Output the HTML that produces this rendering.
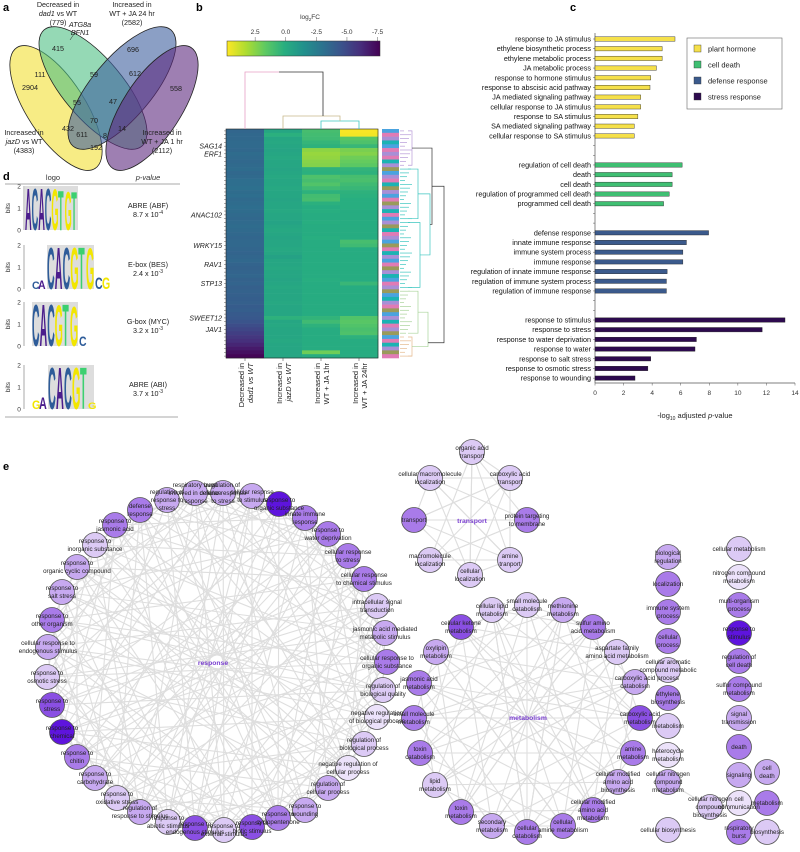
<!DOCTYPE html>
<html><head><meta charset="utf-8">
<style>
html,body{margin:0;padding:0;background:#fff;}
svg{display:block;font-family:"Liberation Sans",sans-serif;}
</style></head>
<body>
<svg id="fig" width="800" height="852" viewBox="0 0 800 852" xmlns="http://www.w3.org/2000/svg">
<g font-weight="bold" font-size="11" fill="#000">
<text x="3" y="11">a</text><text x="196" y="11">b</text><text x="570" y="11">c</text><text x="3" y="180">d</text><text x="3" y="470">e</text>
</g>
<!-- Venn -->
<g id="venn">
<ellipse cx="56" cy="108" rx="29" ry="72" transform="rotate(-33 56 108)" fill="#f4e55c" fill-opacity="0.75" stroke="#222" stroke-width="0.8"/>
<ellipse cx="93" cy="88" rx="30" ry="76" transform="rotate(-40 93 88)" fill="#4fbf83" fill-opacity="0.6" stroke="#222" stroke-width="0.8"/>
<ellipse cx="122" cy="88" rx="30" ry="76" transform="rotate(40 122 88)" fill="#3d5f9e" fill-opacity="0.6" stroke="#222" stroke-width="0.8"/>
<ellipse cx="152" cy="108" rx="29" ry="72" transform="rotate(33 152 108)" fill="#5e2a7e" fill-opacity="0.6" stroke="#222" stroke-width="0.8"/>
<g font-size="7.2" text-anchor="middle" fill="#222">
<text x="58" y="51">415</text><text x="40" y="77">111</text><text x="30" y="90">2904</text><text x="94" y="77">59</text>
<text x="133" y="52">696</text><text x="135" y="76">612</text><text x="176" y="91">558</text><text x="77" y="105">55</text>
<text x="113" y="104">47</text><text x="94" y="123">70</text><text x="68" y="131">432</text><text x="82" y="137">611</text>
<text x="105" y="138">8</text><text x="122" y="131">14</text><text x="96" y="150">192</text>
<text x="58" y="7">Decreased in</text><text x="58" y="16"><tspan font-style="italic">dad1</tspan> vs WT</text><text x="58" y="25">(779)</text>
<text x="80" y="27" font-style="italic">ATG8a</text><text x="80" y="35" font-style="italic">BFN1</text>
<text x="132" y="7">Increased in</text><text x="132" y="16">WT + JA 24 hr</text><text x="132" y="25">(2582)</text>
<text x="24" y="135">Increased in</text><text x="24" y="144"><tspan font-style="italic">jazD</tspan> vs WT</text><text x="24" y="153">(4383)</text>
<text x="162" y="135">Increased in</text><text x="162" y="144">WT + JA 1 hr</text><text x="162" y="153">(2112)</text>
</g>
<line x1="70" y1="40" x2="76" y2="31" stroke="#222" stroke-width="0.5"/>
</g>
<!-- Heatmap -->
<g id="heat"></g>
<!-- Bars -->
<g id="bars"></g>
<!-- Logos -->
<g id="logos"></g>
<!-- Network -->
<g id="net"></g>
</svg>
<script>
const NS="http://www.w3.org/2000/svg";
function mk(parent,tag,attrs,txt){const e=document.createElementNS(NS,tag);for(const k in attrs)e.setAttribute(k,attrs[k]);if(txt!==undefined)e.textContent=txt;parent.appendChild(e);return e;}

/* ---------- Panel c: bar chart ---------- */
const barCategories=["response to JA stimulus","ethylene biosynthetic process","ethylene metabolic process","JA metabolic process","response to hormone stimulus","response to abscisic acid pathway","JA mediated signaling pathway","cellular response to JA stimulus","response to SA stimulus","SA mediated signaling pathway","cellular response to SA stimulus",
"regulation of cell death","death","cell death","regulation of programmed cell death","programmed cell death",
"defense response","innate immune response","immune system process","immune response","regulation of innate immune response","regulation of immune system process","regulation of immune response",
"response to stimulus","response to stress","response to water deprivation","response to water","response to salt stress","response to osmotic stress","response to wounding"];
const barValues=[5.6,4.7,4.7,4.3,3.9,3.85,3.2,3.2,3.0,2.75,2.75, 6.1,5.4,5.4,5.2,4.8, 7.95,6.4,6.15,6.15,5.05,5.0,5.0, 13.3,11.7,7.1,7.0,3.9,3.7,2.8];
const barGroups=[0,0,0,0,0,0,0,0,0,0,0, 1,1,1,1,1, 2,2,2,2,2,2,2, 3,3,3,3,3,3,3];
const groupNames=["plant hormone","cell death","defense response","stress response"];
const xTicks=[0,2,4,6,8,10,12,14];
const groupColors=["#f5e04a","#3fbf72","#3b5a8c","#2d0a4e"];
(function(){
 const g=document.getElementById('bars');
 const x0=595,x1=795,xmax=14,y0=39,pitch=9.69;
 const xs=v=>x0+(v/xmax)*(x1-x0);
 let slot=0,prev=-1;const slots=[];
 barGroups.forEach((gr,i)=>{if(prev!==-1&&gr!==prev)slot+=2;slots.push(slot);slot++;prev=gr;});
 const yAxisBottom=383;
 mk(g,'line',{x1:x0,y1:33,x2:x0,y2:yAxisBottom,stroke:'#555','stroke-width':0.7});
 mk(g,'line',{x1:x0,y1:yAxisBottom,x2:x1,y2:yAxisBottom,stroke:'#555','stroke-width':0.7});
 for(let s=0;s<=slot-1;s++){mk(g,'line',{x1:x0-2,y1:y0+s*pitch,x2:x0,y2:y0+s*pitch,stroke:'#555','stroke-width':0.5});}
 barValues.forEach((v,i)=>{
  const y=y0+slots[i]*pitch;
  const r=mk(g,'rect',{x:x0,y:y-2.2,width:xs(v)-x0,height:4.4,fill:groupColors[barGroups[i]],stroke:'#222','stroke-width':0.4});
  
  
  const t=mk(g,'text',{x:x0-4,y:y+2.5,'font-size':7.2,'text-anchor':'end',fill:'#111'},barCategories[i]);
  
  
 });
 xTicks.forEach(v=>{
  mk(g,'line',{x1:xs(v),y1:yAxisBottom,x2:xs(v),y2:yAxisBottom+2.5,stroke:'#555','stroke-width':0.5});
  const t=mk(g,'text',{x:xs(v),y:yAxisBottom+12,'font-size':6.5,'text-anchor':'middle',fill:'#333'},String(v));
  
  
 });
 const at=mk(g,'text',{x:695,y:418,'font-size':7.5,'text-anchor':'middle',fill:'#222'});
 
 
 at.innerHTML='-log<tspan font-size="5" dy="2">10</tspan><tspan dy="-2"> adjusted </tspan><tspan font-style="italic">p</tspan>-value';
 const lg=mk(g,'g',{});
 
 
 mk(lg,'rect',{x:687,y:38,width:95,height:71,fill:'#fff',stroke:'#666','stroke-width':0.6});
 groupNames.forEach((n,i)=>{
  const yy=49+i*16;
  mk(lg,'rect',{x:694,y:yy-4,width:7,height:7,fill:groupColors[i],stroke:'#333','stroke-width':0.4});
  const t=mk(lg,'text',{x:708,y:yy+2.5,'font-size':7.5,fill:'#222'},n);
  
  
 });
})();

/* ---------- Panel b: heatmap ---------- */
const heatColumns=["Decreased in dad1 vs WT","Increased in jazD vs WT","Increased in WT + JA 1hr","Increased in WT + JA 24hr"];
const heatDad1=[-3.6,-3.5,-3.5,-3.4,-3.4,-3.5,-3.3,-3.4,-3.5,-3.4,-3.3,-3.5,-3.4,-3.2,-3.2,-3.1,-3.3,-3.2,-3.4,-3.3,-3.2,-3.3,-3.4,-3.5,-3.4,-3.3,-3.4,-3.5,-3.6,-3.5,-3.5,-3.6,-3.7,-3.6,-3.5,-3.7,-3.8,-3.7,-3.6,-3.8,-3.7,-3.9,-3.8,-3.9,-4.0,-3.9,-4.1,-4.0,-4.2,-4.3,-4.5,-4.8,-5.1,-5.4,-5.7,-6.0,-6.4,-6.8,-7.2,-7.6];
const heatJazD=[-0.3,0.2,-0.3,-0.2,-0.3,-0.4,-0.3,-0.2,-0.3,-0.3,-0.4,-0.3,-0.2,-0.3,-0.3,-0.2,-0.3,-0.3,-0.4,-0.3,-0.3,-0.2,-0.3,-0.3,-0.5,-0.3,-0.2,-0.3,-0.4,-0.3,-0.3,-0.2,-0.3,-0.6,-0.3,-0.3,-0.2,-0.3,-0.3,-0.4,-0.3,-0.2,-0.3,-0.3,-0.3,-0.2,-0.3,-0.3,-0.3,0.3,-0.3,-0.2,-0.3,-0.3,-0.3,-0.2,-0.3,-0.3,-0.3,-0.3];
const heatJA1=[1.0,0.9,0.8,0.5,0.3,2.6,2.8,2.7,2.5,2.4,0.3,0.2,1.2,1.0,1.3,0.8,0.3,0.9,1.0,0.2,0.0,0.1,0.0,0.0,0.1,0.0,0.0,0.0,0.1,0.0,0.0,0.0,0.0,0.0,0.0,0.0,0.0,0.0,0.0,0.1,0.0,0.0,0.0,0.0,0.0,0.0,0.0,0.0,0.0,0.4,0.8,0.3,0.0,0.0,0.0,0.0,0.0,0.0,2.0,0.0];
const heatJA24=[4.7,4.6,1.5,1.2,0.6,2.2,2.4,2.0,1.8,1.6,0.4,0.3,1.0,1.1,0.8,0.6,0.3,0.2,0.1,0.1,0.1,0.0,0.0,0.0,0.0,0.0,0.0,0.0,0.0,1.0,0.8,0.0,0.0,0.0,0.0,0.0,0.0,0.0,0.0,0.0,0.6,0.0,0.0,0.0,0.0,0.0,0.0,0.0,0.0,1.3,1.5,1.3,1.1,1.2,0.3,0.0,0.0,0.0,0.0,0.0];
const heatGenes=["SAG14","ERF1","ANAC102","WRKY15","RAV1","STP13","SWEET12","JAV1"];
const heatGeneRows=[4,6,22,30,35,40,49,52];
const cbTicks=[2.5,0,-2.5,-5,-7.5];
const rowStrip=[0,1,2,3,0,1,2,1,3,2,4,0,2,1,3,4,2,0,1,4,2,3,1,0,2,4,3,1,2,0,4,1,3,2,0,1,4,2,3,0,1,2,4,0,3,2,1,4,0,2,3,1,2,4,0,1,3,2,4,1];
(function(){
 const g=document.getElementById('heat');
 const vstops=["#fde725","#addc30","#5ec962","#28ae80","#21918c","#2c728e","#3b528b","#472d7b","#440154"];
 const vmax=4.8,vmin=-7.7;
 function hex(h){return [parseInt(h.substr(1,2),16),parseInt(h.substr(3,2),16),parseInt(h.substr(5,2),16)];}
 function col(v){let t=(vmax-v)/(vmax-vmin);t=Math.max(0,Math.min(1,t));const f=t*8,i=Math.min(7,Math.floor(f)),r=f-i;const a=hex(vstops[i]),b=hex(vstops[i+1]);return 'rgb('+a.map((c,k)=>Math.round(c+(b[k]-c)*r)).join(',')+')';}
 const hx0=226,hx1=378,hy0=129,hy1=358;
 const cols=[heatDad1,heatJazD,heatJA1,heatJA24];
 const cw=(hx1-hx0)/cols.length, n=heatDad1.length, rh=(hy1-hy0)/n;
 cols.forEach((arr,c)=>arr.forEach((v,r)=>{
  const e=mk(g,'rect',{x:hx0+c*cw,y:hy0+r*rh,width:cw+0.3,height:rh+0.3,fill:col(v)});
  
  
 }));
 mk(g,'rect',{x:hx0,y:hy0,width:hx1-hx0,height:hy1-hy0,fill:'none',stroke:'#222','stroke-width':0.6});
 for(let r=0;r<n;r++)mk(g,'line',{x1:hx0-2,y1:hy0+(r+0.5)*rh,x2:hx0,y2:hy0+(r+0.5)*rh,stroke:'#333','stroke-width':0.4});
 heatGenes.forEach((gn,i)=>{const t=mk(g,'text',{x:hx0-4,y:hy0+(heatGeneRows[i]+0.5)*rh+2.5,'font-size':7,'font-style':'italic','text-anchor':'end',fill:'#222'},gn);
  
  });
 const cbx0=227,cbx1=380;
 const defs=mk(g,'defs',{});const lgd=mk(defs,'linearGradient',{id:'vir',x1:0,x2:1,y1:0,y2:0});
 vstops.forEach((s,i)=>mk(lgd,'stop',{offset:(i/8),'stop-color':s}));
 const cb=mk(g,'rect',{x:cbx0,y:41,width:cbx1-cbx0,height:15,fill:'url(#vir)',stroke:'#333','stroke-width':0.5});
 
 
 cbTicks.forEach(v=>{const x=cbx0+(vmax-v)/(vmax-vmin)*(cbx1-cbx0);
  mk(g,'line',{x1:x,y1:37,x2:x,y2:41,stroke:'#333','stroke-width':0.4});
  const t=mk(g,'text',{x:x,y:34,'font-size':6.5,'text-anchor':'middle',fill:'#333'},v.toFixed(1));
  
  });
 const tt=mk(g,'text',{x:310,y:19,'font-size':6.5,'text-anchor':'middle',fill:'#333'});tt.innerHTML='log<tspan font-size="4.5" dy="2">2</tspan><tspan dy="-2">FC</tspan>';
 const lab=[["Decreased in","dad1 vs WT"],["Increased in","jazD vs WT"],["Increased in","WT + JA 1hr"],["Increased in","WT + JA 24hr"]];
 lab.forEach((l,c)=>{const cx=hx0+(c+0.5)*cw;
  mk(g,'line',{x1:cx,y1:hy1,x2:cx,y2:hy1+3,stroke:'#333','stroke-width':0.5});
  const t=mk(g,'text',{transform:'translate('+(cx+1)+',363) rotate(-90)','font-size':7.5,'text-anchor':'end',fill:'#222'});
  
  
  t.innerHTML='<tspan x="0" dy="-2">'+l[0]+'</tspan><tspan x="0" dy="9" font-style="'+(c<2?'italic':'normal')+'">'+l[1]+'</tspan>';});
 const c1=hx0+0.5*cw,c2=hx0+1.5*cw,c3=hx0+2.5*cw,c4=hx0+3.5*cw;
 mk(g,'path',{d:'M'+c3+' '+hy0+'V121H'+c4+'V'+hy0,fill:'none',stroke:'#3cc6c0','stroke-width':0.8});
 mk(g,'path',{d:'M'+c2+' '+hy0+'V116H'+(c3+c4)/2+'V121',fill:'none',stroke:'#c8b98a','stroke-width':0.8});
 mk(g,'path',{d:'M'+((c2+c3+c4)/3+2)+' 116V72H279',fill:'none',stroke:'#333','stroke-width':0.8});
 mk(g,'path',{d:'M'+c1+' '+hy0+'V72H279',fill:'none',stroke:'#e7a0c5','stroke-width':0.8});
 const stripCols=["#4aa3df","#e07bb5","#a88fd6","#1bb3b3","#9a9a5a"];
 rowStrip.forEach((k,r)=>{const e=mk(g,'rect',{x:382,y:hy0+r*rh,width:17,height:rh+0.3,fill:stripCols[k]});
  
  });
 const dg=mk(g,'g',{fill:'none','stroke-width':0.7});
 const clusters=[[0,10,'#b79ad8',412],[10,24,'#3cc6c0',418],[24,42,'#3cc6c0',420],[42,54,'#a9d39a',418],[54,60,'#e5b98d',412]];
 clusters.forEach(cl=>{for(let r=cl[0];r<cl[1];r++){const y=hy0+(r+0.5)*rh;mk(dg,'line',{x1:400,y1:y,x2:404+((r*7)%9),y2:y,stroke:cl[2]});}
  mk(dg,'path',{d:'M'+(404+4)+' '+(hy0+(cl[0]+0.5)*rh)+'H'+cl[3]+'V'+(hy0+(cl[1]-0.5)*rh)+'H408',stroke:cl[2]});});
 mk(dg,'path',{d:'M418 '+(hy0+17*rh)+'H430V'+(hy0+33*rh)+'H420',stroke:'#3cc6c0'});
 mk(dg,'path',{d:'M412 '+(hy0+5*rh)+'H432V'+(hy0+25*rh)+'H430',stroke:'#333'});
 mk(dg,'path',{d:'M418 '+(hy0+48*rh)+'H428V'+(hy0+57*rh)+'H412',stroke:'#a9d39a'});
 mk(dg,'path',{d:'M432 '+(hy0+15*rh)+'H444V'+(hy0+56*rh)+'H428',stroke:'#333'});
})();

/* ---------- Panel d: motif logos ---------- */
(function(){
 const g=document.getElementById('logos');
 const LC={A:'#4b1d8c',C:'#2e5c99',G:'#f2e600',T:'#3cd070'};
 mk(g,'text',{x:53,y:180,'font-size':7.5,'text-anchor':'middle',fill:'#333'},'logo');
 mk(g,'text',{x:148,y:180,'font-size':7.5,'text-anchor':'middle','font-style':'italic',fill:'#333'},'p-value');
 mk(g,'line',{x1:5,y1:184,x2:180,y2:184,stroke:'#555','stroke-width':0.6});
 mk(g,'line',{x1:5,y1:417,x2:178,y2:417,stroke:'#555','stroke-width':0.6});
 const logos=[
  {y0:230,bg:[25,78],letters:[['A',25,1.95],['C',31.6,1.95],['A',38.2,1.95],['C',44.8,1.95],['G',51.4,1.9],['T',58,1.85],['G',64.6,1.8],['T',71.2,1.8]],w:6.6,name:'ABRE (ABF)',p:'8.7 x 10',e:'-4'},
  {y0:289,bg:[47,94],letters:[['C',32,0.35],['A',38,0.4],['C',47,1.95],['A',54.8,1.95],['C',62.6,1.95],['G',70.4,1.95],['T',78.2,1.95],['G',86,1.9],['C',95,0.55],['G',102,0.55]],w:7.6,name:'E-box (BES)',p:'2.4 x 10',e:'-3'},
  {y0:346,bg:[32,78],letters:[['C',32,1.95],['A',39.6,1.95],['C',47.2,1.95],['G',54.8,1.9],['T',62.4,1.95],['G',70,1.85],['C',79,0.45]],w:7.5,name:'G-box (MYC)',p:'3.2 x 10',e:'-3'},
  {y0:409,bg:[48,94],letters:[['G',32,0.4],['A',39,0.55],['C',48,1.95],['A',56,1.95],['C',64,1.95],['G',72,1.95],['T',80,1.95],['G',88,0.3]],w:7.8,name:'ABRE (ABI)',p:'3.7 x 10',e:'-3'}
 ];
 logos.forEach((L,i)=>{
  const lg=mk(g,'g',{});
  
  
  mk(lg,'rect',{x:L.bg[0],y:L.y0-44,width:L.bg[1]-L.bg[0],height:44,fill:'#ddd'});
  mk(lg,'line',{x1:24,y1:L.y0-44,x2:24,y2:L.y0,stroke:'#555','stroke-width':0.5});
  [0,1,2].forEach(b=>mk(lg,'text',{x:19,y:L.y0-b*22+2.5,'font-size':6.5,'text-anchor':'middle',fill:'#333'},String(b)));
  mk(lg,'text',{transform:'translate(10,'+(L.y0-22)+') rotate(-90)','font-size':6.5,'text-anchor':'middle',fill:'#333'},'bits');
  L.letters.forEach(l=>{const h=l[2]*22;const w=L.w;
   mk(lg,'text',{transform:'translate('+l[1]+','+L.y0+') scale('+(w/7.2)+','+(h/7.2)+')','font-size':10,'font-weight':'bold',fill:LC[l[0]]},l[0]);});
  mk(lg,'text',{x:148,y:L.y0-22,'font-size':7.2,'text-anchor':'middle',fill:'#222'},L.name);
  const t=mk(lg,'text',{x:148,y:L.y0-13,'font-size':7.2,'text-anchor':'middle',fill:'#222'});
  t.innerHTML=L.p+'<tspan font-size="5" dy="-3">'+L.e+'</tspan>';
 });
})();

/* ---------- Panel e: network ---------- */
(function(){
 const g=document.getElementById('net');
 const shades=['#ece2fa','#dccaf5','#c7a9f0','#a97be9','#8a4fe3','#5e14dd'];
 const eg=mk(g,'g',{stroke:'#dedede','stroke-width':1.1});
 const ng=mk(g,'g',{});
 const response=[[195,493,2,'respiratory burst|involved in defence|response'],[223,493,2,'regulation of|cellular response|to stress'],[252,496,2,'cellular respnse|to stimulus'],[279,504,5,'response to|organic substance'],[305,518,3,'innate immune|response'],[328,534,3,'response to|water deprivation'],[348,556,3,'cellular response|to stress'],[364,579,3,'cellular response|to chemical stimulus'],[377,606,1,'intracellular signal|transduction'],[385,633,2,'jasmonic acid mediated|metabolic stimulus'],[387,662,3,'cellular response to|organic substance'],[383,690,1,'regulation of|biological quality'],[377,717,0,'negative regulation|of biological process'],[364,744,1,'regulation of|biological process'],[348,768,0,'negative regulation of|cellular process'],[328,788,2,'regulation of|cellular process'],[305,810,2,'response to|wounding'],[278,818,3,'response to|cyclopentenone'],[252,827,4,'response to|biotic stimulus'],[224,830,1,'response to|external stimulus'],[195,828,4,'response to|endogenous stimulus'],[168,822,1,'response to|abiotic stimulus'],[140,812,2,'regulation of|response to stimulus'],[117,798,1,'response to|oxidative stress'],[95,778,2,'response to|carbohydrate'],[77,757,3,'response to|chitin'],[62,732,5,'response to|chemical'],[52,705,4,'response to|stress'],[47,677,1,'response to|osmotic stress'],[48,647,2,'cellular response to|endogenous stimulus'],[52,620,3,'response to|other organism'],[62,592,2,'response to|salt stress'],[77,567,2,'response to|organic cyclic compound'],[95,545,1,'response to|inorganic substance'],[115,525,3,'response to|jasmonic acid'],[140,510,3,'defense|response'],[167,500,2,'regulation of|response to|stress']];
 const transport=[[472,452,1,'organic acid|transport'],[510,478,1,'carboxylic acid|transport'],[527,520,3,'protein targeting|to membrane'],[510,560,1,'amine|tranport'],[470,575,1,'cellular|localization'],[430,560,1,'macromolecule|localization'],[414,520,3,'transport'],[430,478,1,'cellular macromolecule|localization']];
 const metab=[[527,605,1,'small molecule|catabolism'],[563,610,2,'methionine|metabolism'],[593,627,3,'sulfur amino|acid metabolism'],[617,652,1,'aspartate family|amino acid metabolism'],[635,682,2,'carboxylic acid|catabolism'],[640,718,4,'carboxylic acid|metabolism'],[633,753,3,'amine|metabolism'],[618,782,2,'cellular modified|amino acid|biosynthesis'],[593,810,3,'cellular modified|amino acid|metabolism'],[563,826,3,'cellular|amine metabolism'],[527,832,3,'cellular|catabolism'],[492,826,2,'secondary|metabolism'],[461,812,3,'toxin|metabolism'],[435,785,1,'lipid|metabolism'],[420,753,3,'toxin|catabolism'],[414,718,3,'small molecule|metabolism'],[419,683,3,'jasmonic acid|metabolism'],[436,652,2,'oxylipin|metabolism'],[461,627,4,'cellular ketone|metabolism'],[492,610,1,'cellular lipid|metabolism']];
 const singles=[[668,557,2,'biological|regulation'],[668,584,3,'localization'],[668,612,3,'immune system|process'],[668,641,3,'cellular|process'],[668,670,1,'cellular aromatic|compound metabolic|process'],[668,698,3,'ethylene|biosynthesis'],[668,726,1,'metabolism'],[668,755,0,'heterocycle|metabolism'],[668,782,2,'cellular nitrogen|compound|metabolism'],[710,807,1,'cellular nitrogen|compound|biosynthesis'],[668,830,1,'cellular biosynthesis'],
  [739,549,1,'cellular metabolism'],[739,577,0,'nitrogen compound|metabolism'],[739,605,3,'multi-organism|process'],[739,633,5,'response to|stimulus'],[739,661,3,'regulation of|cell death'],[739,689,3,'sulfur compound|metabolism'],[739,718,2,'signal|transmission'],[739,747,3,'death'],[739,775,2,'signaling'],[739,803,0,'cell|communication'],[739,832,3,'respiratory|burst'],[767,772,2,'cell|death'],[767,803,3,'metabolism'],[767,832,1,'biosynthesis']];
 function edges(list,steps){const n=list.length;for(let i=0;i<n;i++)steps.forEach(s=>{const j=(i+s+(i%3))%n;mk(eg,'line',{x1:list[i][0],y1:list[i][1],x2:list[j][0],y2:list[j][1]});});}
 edges(response,[2,6,10,14,17]);edges(transport,[1,3,4]);edges(metab,[2,5,8,10]);
 mk(eg,'line',{x1:668,y1:782,x2:710,y2:807});mk(eg,'line',{x1:739,y1:803,x2:710,y2:807});mk(eg,'line',{x1:739,y1:803,x2:767,y2:803});
 function nodes(list){list.forEach(nd=>{
  const c=mk(ng,'circle',{cx:nd[0],cy:nd[1],r:12.5,fill:shades[nd[2]],stroke:'#555','stroke-width':0.8});
  
  
 });}
 function labels(list){list.forEach(nd=>{const lines=nd[3].split('|');const t=mk(ng,'text',{x:nd[0],y:nd[1]+2-(lines.length-1)*4,'font-size':6.2,'text-anchor':'middle',fill:'#222'});
  
  
  t.innerHTML=lines.map((l,i)=>'<tspan x="'+nd[0]+'" dy="'+(i?8:0)+'">'+l+'</tspan>').join('');});}
 [response,transport,metab,singles].forEach(l=>nodes(l));
 [response,transport,metab,singles].forEach(l=>labels(l));
 [['response',213,665],['transport',472,523],['metabolism',528,720]].forEach(c=>{const t=mk(g,'text',{x:c[1],y:c[2],'font-size':6.8,'font-weight':'bold','text-anchor':'middle',fill:'#7a3fd0'},c[0]);
  
  });
})();
</script>
</body></html>
